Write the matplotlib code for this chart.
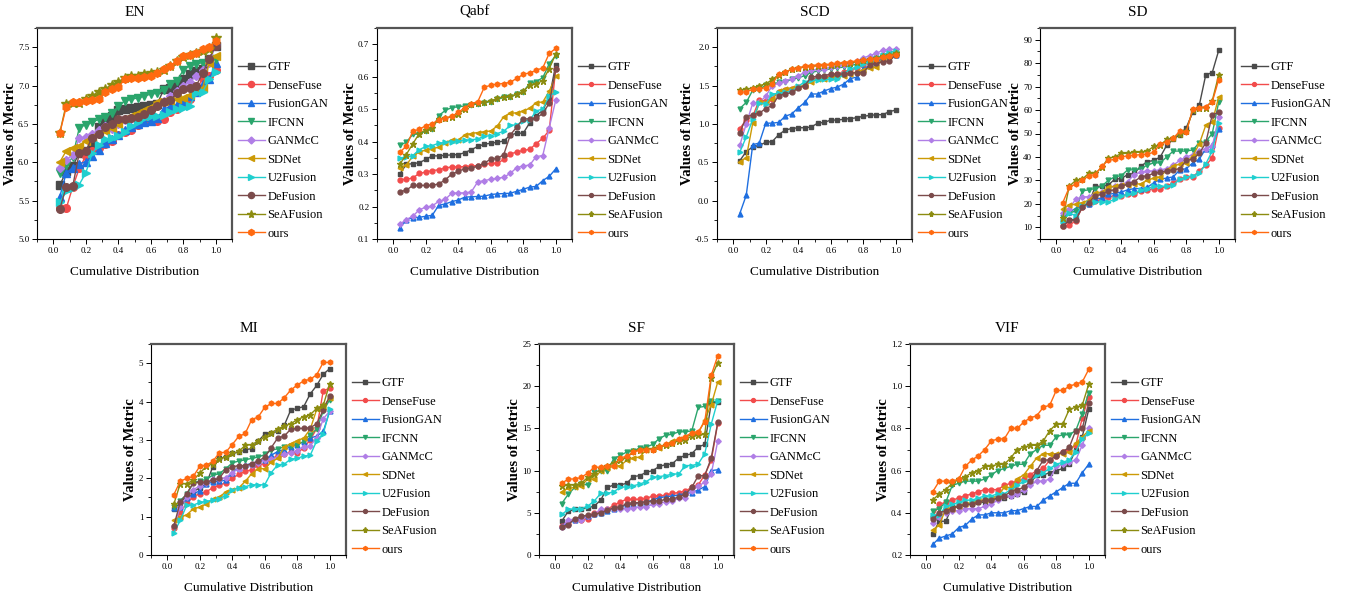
import matplotlib.pyplot as plt
from matplotlib.ticker import AutoMinorLocator, MultipleLocator

plt.rcParams['font.family'] = ['Liberation Serif', 'DejaVu Serif']
plt.rcParams['axes.unicode_minus'] = False

cdf = [0.04, 0.08, 0.12, 0.16, 0.20, 0.24, 0.28, 0.32, 0.36, 0.40, 0.44, 0.48, 0.52,
       0.56, 0.60, 0.64, 0.68, 0.72, 0.76, 0.80, 0.84, 0.88, 0.92, 0.96, 1.00]

methods = ['GTF', 'DenseFuse', 'FusionGAN', 'IFCNN', 'GANMcC', 'SDNet', 'U2Fusion',
           'DeFusion', 'SeAFusion', 'ours']
colors = ['#4a4a4a', '#f24b4b', '#1f6fe0', '#2aa56c', '#b07ee6', '#cc9a06', '#1fcfcf',
          '#7b4b4b', '#8c8c10', '#ff6a10']
markers = ['s', 'o', '^', 'v', 'D', '<', '>', 'o', '*', 'h']

# ---- EN
en_gtf = [5.70, 5.88, 5.95, 6.12, 6.15, 6.24, 6.46, 6.55, 6.60, 6.68, 6.70, 6.71, 6.72, 6.73, 6.74, 6.76, 6.95, 6.97, 7.02, 7.08, 7.15, 7.19, 7.22, 7.35, 7.52]
en_densefuse = [5.40, 5.40, 5.68, 5.92, 6.08, 6.15, 6.19, 6.24, 6.28, 6.36, 6.40, 6.42, 6.48, 6.52, 6.54, 6.54, 6.56, 6.65, 6.70, 6.74, 6.82, 6.93, 7.10, 7.12, 7.20]
en_fusiongan = [5.55, 5.86, 5.93, 5.98, 6.01, 6.08, 6.16, 6.25, 6.30, 6.36, 6.42, 6.46, 6.50, 6.52, 6.54, 6.58, 6.69, 6.73, 6.75, 6.80, 6.87, 6.92, 7.02, 7.08, 7.30]
en_ifcnn = [5.86, 5.96, 6.07, 6.45, 6.49, 6.52, 6.56, 6.59, 6.64, 6.73, 6.80, 6.82, 6.84, 6.86, 6.89, 6.90, 6.94, 7.02, 7.06, 7.20, 7.26, 7.28, 7.30, 7.32, 7.35]
en_ganmcc = [5.93, 6.03, 6.10, 6.31, 6.33, 6.37, 6.42, 6.47, 6.44, 6.50, 6.55, 6.58, 6.62, 6.65, 6.70, 6.76, 6.80, 6.87, 6.93, 7.00, 7.05, 7.12, 7.20, 7.30, 7.53]
en_sdnet = [6.00, 6.15, 6.18, 6.21, 6.28, 6.33, 6.37, 6.41, 6.45, 6.50, 6.56, 6.60, 6.64, 6.68, 6.72, 6.78, 6.80, 6.80, 6.82, 6.84, 6.88, 6.93, 6.97, 7.30, 7.38]
en_u2fusion = [5.48, 5.62, 5.67, 5.71, 5.86, 6.12, 6.22, 6.30, 6.32, 6.34, 6.40, 6.47, 6.52, 6.58, 6.60, 6.60, 6.62, 6.65, 6.69, 6.71, 6.73, 6.90, 6.92, 7.08, 7.18]
en_defusion = [5.39, 5.68, 5.69, 6.12, 6.15, 6.32, 6.37, 6.46, 6.50, 6.56, 6.57, 6.58, 6.59, 6.63, 6.68, 6.73, 6.78, 6.81, 6.90, 6.95, 6.97, 7.00, 7.16, 7.35, 7.52]
en_seafusion = [6.38, 6.76, 6.77, 6.77, 6.82, 6.87, 6.92, 6.96, 7.01, 7.05, 7.10, 7.12, 7.13, 7.15, 7.17, 7.18, 7.20, 7.25, 7.32, 7.37, 7.40, 7.42, 7.45, 7.47, 7.62]
en_ours = [6.38, 6.72, 6.78, 6.79, 6.80, 6.81, 6.82, 6.92, 6.96, 6.98, 7.08, 7.10, 7.10, 7.11, 7.13, 7.17, 7.22, 7.26, 7.32, 7.38, 7.40, 7.43, 7.48, 7.50, 7.58]

# ---- Qabf
qabf_gtf = [0.300, 0.330, 0.332, 0.335, 0.345, 0.356, 0.356, 0.358, 0.359, 0.360, 0.366, 0.375, 0.385, 0.392, 0.395, 0.398, 0.402, 0.420, 0.426, 0.426, 0.458, 0.480, 0.497, 0.535, 0.637]
qabf_densefuse = [0.283, 0.284, 0.288, 0.302, 0.306, 0.311, 0.313, 0.319, 0.322, 0.322, 0.323, 0.325, 0.326, 0.330, 0.333, 0.333, 0.345, 0.362, 0.368, 0.373, 0.376, 0.394, 0.410, 0.435, 0.625]
qabf_fusiongan = [0.133, 0.160, 0.165, 0.167, 0.170, 0.173, 0.204, 0.208, 0.215, 0.220, 0.229, 0.230, 0.231, 0.232, 0.237, 0.239, 0.240, 0.241, 0.247, 0.253, 0.260, 0.262, 0.280, 0.293, 0.316]
qabf_ifcnn = [0.389, 0.398, 0.422, 0.424, 0.432, 0.438, 0.480, 0.496, 0.505, 0.507, 0.510, 0.513, 0.516, 0.520, 0.523, 0.530, 0.536, 0.537, 0.546, 0.553, 0.580, 0.585, 0.597, 0.640, 0.665]
qabf_ganmcc = [0.145, 0.160, 0.170, 0.190, 0.198, 0.202, 0.216, 0.222, 0.241, 0.242, 0.242, 0.245, 0.276, 0.280, 0.284, 0.287, 0.290, 0.302, 0.320, 0.325, 0.328, 0.354, 0.357, 0.443, 0.528]
qabf_sdnet = [0.318, 0.328, 0.355, 0.368, 0.374, 0.378, 0.383, 0.397, 0.405, 0.405, 0.420, 0.425, 0.428, 0.430, 0.433, 0.448, 0.477, 0.487, 0.489, 0.494, 0.503, 0.520, 0.522, 0.555, 0.602]
qabf_u2fusion = [0.350, 0.352, 0.357, 0.375, 0.385, 0.388, 0.395, 0.398, 0.400, 0.402, 0.404, 0.406, 0.408, 0.417, 0.418, 0.425, 0.432, 0.450, 0.452, 0.463, 0.466, 0.495, 0.500, 0.540, 0.553]
qabf_defusion = [0.246, 0.250, 0.265, 0.265, 0.265, 0.265, 0.270, 0.282, 0.300, 0.308, 0.317, 0.318, 0.325, 0.334, 0.346, 0.348, 0.360, 0.420, 0.445, 0.470, 0.470, 0.472, 0.487, 0.518, 0.623]
qabf_seafusion = [0.330, 0.360, 0.393, 0.425, 0.436, 0.443, 0.470, 0.473, 0.476, 0.485, 0.500, 0.515, 0.520, 0.522, 0.525, 0.533, 0.538, 0.540, 0.546, 0.555, 0.575, 0.578, 0.588, 0.625, 0.670]
qabf_ours = [0.368, 0.385, 0.432, 0.438, 0.449, 0.455, 0.468, 0.472, 0.478, 0.490, 0.505, 0.517, 0.523, 0.567, 0.574, 0.577, 0.579, 0.583, 0.595, 0.607, 0.612, 0.620, 0.627, 0.672, 0.687]

# ---- SCD
scd_gtf = [0.52, 0.64, 0.70, 0.72, 0.76, 0.77, 0.86, 0.92, 0.94, 0.95, 0.95, 0.96, 1.01, 1.02, 1.05, 1.05, 1.06, 1.07, 1.08, 1.10, 1.11, 1.12, 1.12, 1.16, 1.18]
scd_densefuse = [0.94, 1.05, 1.10, 1.31, 1.30, 1.33, 1.42, 1.44, 1.46, 1.48, 1.49, 1.58, 1.60, 1.61, 1.63, 1.65, 1.68, 1.70, 1.73, 1.77, 1.80, 1.82, 1.86, 1.88, 1.91]
scd_fusiongan = [-0.17, 0.07, 0.73, 0.75, 1.01, 1.01, 1.02, 1.10, 1.13, 1.21, 1.28, 1.39, 1.39, 1.43, 1.46, 1.48, 1.52, 1.59, 1.61, 1.72, 1.76, 1.80, 1.85, 1.88, 1.90]
scd_ifcnn = [1.20, 1.28, 1.44, 1.44, 1.51, 1.52, 1.54, 1.55, 1.58, 1.60, 1.63, 1.67, 1.69, 1.70, 1.72, 1.73, 1.74, 1.76, 1.78, 1.80, 1.83, 1.86, 1.89, 1.93, 1.95]
scd_ganmcc = [0.72, 1.00, 1.27, 1.28, 1.36, 1.50, 1.53, 1.56, 1.59, 1.62, 1.68, 1.70, 1.71, 1.72, 1.74, 1.75, 1.77, 1.79, 1.82, 1.86, 1.89, 1.92, 1.96, 1.97, 1.97]
scd_sdnet = [0.51, 0.56, 1.01, 1.28, 1.29, 1.32, 1.43, 1.46, 1.47, 1.48, 1.50, 1.55, 1.58, 1.59, 1.61, 1.62, 1.63, 1.65, 1.68, 1.70, 1.73, 1.74, 1.85, 1.88, 1.92]
scd_u2fusion = [0.63, 0.83, 1.06, 1.27, 1.26, 1.39, 1.40, 1.41, 1.43, 1.49, 1.55, 1.57, 1.57, 1.58, 1.58, 1.58, 1.65, 1.72, 1.74, 1.78, 1.81, 1.85, 1.90, 1.93, 1.95]
scd_defusion = [0.88, 1.09, 1.12, 1.14, 1.20, 1.24, 1.37, 1.39, 1.41, 1.47, 1.50, 1.61, 1.62, 1.63, 1.65, 1.65, 1.65, 1.66, 1.67, 1.67, 1.77, 1.79, 1.81, 1.82, 1.90]
scd_seafusion = [1.44, 1.45, 1.47, 1.50, 1.52, 1.58, 1.64, 1.68, 1.71, 1.73, 1.74, 1.75, 1.76, 1.77, 1.77, 1.78, 1.79, 1.80, 1.81, 1.83, 1.84, 1.86, 1.88, 1.90, 1.92]
scd_ours = [1.41, 1.42, 1.45, 1.46, 1.47, 1.52, 1.65, 1.68, 1.71, 1.73, 1.75, 1.76, 1.77, 1.77, 1.78, 1.79, 1.80, 1.81, 1.82, 1.83, 1.84, 1.85, 1.87, 1.89, 1.90]

# ---- SD
sd_gtf = [10.5, 13.0, 13.5, 19.0, 20.0, 27.5, 27.5, 28.0, 30.5, 30.8, 32.5, 33.0, 36.0, 38.0, 38.5, 40.0, 45.0, 47.5, 49.5, 52.5, 59.0, 62.0, 75.0, 76.0, 85.5]
sd_densefuse = [10.5, 10.8, 12.8, 18.5, 20.0, 21.0, 22.0, 23.0, 23.5, 23.5, 24.0, 24.0, 25.5, 26.0, 26.5, 26.5, 27.5, 29.0, 30.5, 31.5, 31.5, 34.0, 36.5, 39.5, 52.5]
sd_fusiongan = [13.5, 16.5, 18.0, 19.0, 20.0, 22.0, 22.5, 24.0, 24.5, 25.0, 26.0, 26.5, 26.5, 27.0, 29.0, 30.5, 31.0, 31.5, 34.5, 35.0, 37.5, 39.0, 43.5, 45.0, 52.0]
sd_ifcnn = [14.5, 16.0, 17.0, 25.5, 26.0, 26.5, 27.5, 30.0, 31.5, 32.0, 34.5, 34.5, 35.0, 36.5, 37.5, 37.5, 40.0, 42.5, 42.5, 42.5, 43.0, 46.0, 46.5, 50.0, 63.5]
sd_ganmcc = [16.0, 18.0, 22.0, 23.0, 23.0, 24.0, 25.0, 26.5, 27.5, 28.0, 29.5, 32.5, 33.5, 34.0, 34.0, 34.5, 35.0, 36.5, 38.5, 40.0, 41.0, 42.5, 43.5, 44.5, 57.0]
sd_sdnet = [18.0, 19.5, 19.8, 20.5, 21.5, 24.5, 25.0, 27.0, 27.5, 28.0, 28.0, 28.5, 28.5, 30.0, 31.0, 31.5, 34.5, 36.0, 37.0, 37.5, 40.5, 45.5, 53.5, 55.0, 65.5]
sd_u2fusion = [12.5, 16.0, 15.0, 19.0, 20.5, 20.8, 20.8, 20.8, 22.0, 23.5, 24.0, 24.5, 26.0, 26.5, 27.5, 27.5, 27.5, 28.0, 30.5, 31.5, 32.0, 33.0, 37.0, 42.5, 54.5]
sd_defusion = [10.5, 13.0, 13.0, 18.5, 20.5, 23.5, 24.0, 25.5, 26.0, 27.5, 28.5, 29.5, 31.5, 32.0, 33.0, 33.5, 34.0, 34.5, 35.0, 38.5, 39.0, 41.5, 46.0, 58.0, 59.0]
sd_seafusion = [14.0, 27.5, 30.0, 30.5, 33.0, 33.0, 35.5, 39.5, 40.0, 41.5, 41.5, 42.0, 42.0, 42.5, 44.5, 45.0, 47.5, 48.0, 50.0, 51.0, 60.0, 61.0, 61.0, 64.0, 75.0]
sd_ours = [20.5, 27.0, 28.5, 30.0, 32.0, 32.5, 36.0, 38.5, 39.0, 40.0, 40.5, 40.7, 41.0, 41.2, 42.0, 45.5, 46.5, 48.0, 51.0, 50.5, 60.5, 61.0, 61.5, 63.5, 73.0]

# ---- MI
mi_gtf = [1.20, 1.35, 1.55, 1.65, 1.75, 1.85, 2.30, 2.52, 2.55, 2.65, 2.68, 2.75, 2.77, 2.97, 3.15, 3.18, 3.22, 3.38, 3.78, 3.82, 3.87, 4.20, 4.42, 4.71, 4.86]
mi_densefuse = [0.70, 1.12, 1.35, 1.52, 1.60, 1.65, 1.75, 1.82, 1.88, 2.00, 2.10, 2.18, 2.22, 2.35, 2.38, 2.50, 2.60, 2.63, 2.68, 2.65, 2.80, 3.00, 3.30, 4.28, 4.35]
mi_fusiongan = [1.22, 1.25, 1.48, 1.58, 1.68, 1.85, 1.90, 1.92, 1.95, 2.15, 2.28, 2.35, 2.38, 2.45, 2.48, 2.60, 2.70, 2.75, 2.82, 2.88, 2.95, 3.05, 3.10, 3.22, 3.75]
mi_ifcnn = [1.25, 1.42, 1.58, 1.88, 1.93, 1.97, 2.08, 2.12, 2.25, 2.40, 2.45, 2.48, 2.52, 2.55, 2.62, 2.73, 2.77, 2.82, 2.85, 2.88, 2.96, 3.14, 3.28, 3.75, 4.05]
mi_ganmcc = [0.75, 1.25, 1.52, 1.70, 1.80, 1.88, 1.98, 1.98, 2.02, 2.15, 2.25, 2.32, 2.35, 2.40, 2.48, 2.50, 2.55, 2.62, 2.67, 2.72, 2.82, 2.85, 3.05, 3.55, 3.75]
mi_sdnet = [0.90, 0.98, 1.05, 1.20, 1.25, 1.33, 1.45, 1.50, 1.65, 1.70, 1.75, 1.92, 2.12, 2.25, 2.25, 2.42, 2.52, 2.82, 2.90, 2.98, 3.05, 3.28, 3.80, 3.85, 4.10]
mi_u2fusion = [0.58, 0.90, 1.30, 1.30, 1.37, 1.40, 1.43, 1.47, 1.55, 1.70, 1.75, 1.78, 1.83, 1.83, 1.83, 2.15, 2.35, 2.37, 2.50, 2.52, 2.58, 2.60, 2.98, 3.15, 3.80]
mi_defusion = [0.75, 1.38, 1.60, 1.88, 1.90, 1.90, 1.95, 2.00, 2.22, 2.30, 2.33, 2.33, 2.38, 2.45, 2.55, 2.80, 3.05, 3.10, 3.28, 3.30, 3.30, 3.32, 3.42, 3.78, 4.15]
mi_seafusion = [1.32, 1.86, 1.86, 1.95, 2.13, 2.31, 2.38, 2.50, 2.56, 2.65, 2.70, 2.86, 2.88, 2.97, 3.07, 3.18, 3.29, 3.36, 3.42, 3.53, 3.60, 3.66, 3.82, 3.90, 4.47]
mi_ours = [1.57, 1.92, 2.00, 2.05, 2.31, 2.34, 2.44, 2.66, 2.68, 2.88, 3.09, 3.17, 3.53, 3.60, 3.85, 3.95, 3.95, 4.10, 4.30, 4.43, 4.54, 4.58, 4.70, 5.02, 5.02]

# ---- SF
sf_gtf = [4.0, 5.2, 5.4, 5.5, 5.6, 5.8, 6.5, 8.0, 8.3, 8.3, 8.5, 9.3, 9.4, 9.8, 10.0, 10.5, 10.7, 10.8, 11.5, 11.8, 12.0, 12.8, 13.1, 18.0, 18.1]
sf_densefuse = [3.4, 3.7, 4.2, 4.2, 4.3, 5.0, 5.2, 5.4, 5.9, 6.3, 6.6, 6.6, 6.6, 6.7, 7.0, 7.0, 7.1, 7.3, 7.4, 7.6, 8.0, 8.3, 9.5, 11.2, 15.6]
sf_fusiongan = [3.4, 3.8, 4.1, 4.4, 4.6, 4.8, 5.0, 5.2, 5.5, 5.7, 5.9, 6.1, 6.2, 6.3, 6.5, 6.8, 6.9, 7.0, 7.1, 7.3, 7.4, 7.7, 8.1, 10.0, 10.1]
sf_ifcnn = [6.1, 7.2, 8.0, 8.4, 8.3, 9.8, 10.0, 10.0, 11.4, 11.8, 12.2, 12.3, 12.7, 12.8, 13.1, 13.8, 14.2, 14.3, 14.6, 14.6, 14.7, 17.5, 17.6, 18.2, 18.2]
sf_ganmcc = [3.3, 4.2, 4.2, 4.2, 4.6, 4.9, 5.4, 5.4, 5.4, 5.5, 5.5, 5.6, 5.7, 5.7, 6.0, 6.1, 6.3, 6.4, 6.7, 6.8, 7.6, 8.2, 8.6, 9.6, 13.5]
sf_sdnet = [7.5, 7.9, 8.0, 8.2, 9.0, 9.0, 10.0, 10.3, 10.5, 10.6, 11.2, 11.5, 11.6, 12.5, 12.6, 12.7, 13.0, 13.5, 13.7, 14.0, 14.3, 14.4, 16.0, 17.8, 20.5]
sf_u2fusion = [4.8, 5.4, 5.5, 5.5, 5.8, 6.4, 7.3, 7.3, 7.5, 8.0, 8.1, 8.2, 8.4, 8.7, 9.2, 9.3, 9.4, 9.6, 9.6, 10.6, 10.6, 10.8, 12.0, 15.5, 18.3]
sf_defusion = [3.3, 3.6, 4.3, 4.6, 4.7, 4.8, 5.0, 5.3, 5.6, 5.7, 6.1, 6.2, 6.2, 6.3, 6.4, 6.4, 6.6, 6.6, 6.9, 7.2, 8.0, 9.4, 9.4, 11.5, 15.7]
sf_seafusion = [8.2, 8.3, 8.3, 8.5, 9.2, 9.6, 10.2, 10.6, 10.9, 11.3, 11.5, 12.3, 12.5, 12.6, 12.6, 12.9, 13.0, 13.3, 13.5, 13.6, 14.1, 14.2, 14.3, 21.0, 22.8]
sf_ours = [8.5, 9.0, 9.0, 9.2, 9.7, 10.4, 10.4, 10.5, 10.6, 11.5, 11.7, 12.2, 12.4, 12.5, 12.5, 12.8, 13.1, 13.3, 13.8, 14.0, 14.5, 14.6, 15.8, 21.3, 23.6]

# ---- VIF
vif_gtf = [0.30, 0.36, 0.36, 0.43, 0.43, 0.44, 0.44, 0.45, 0.45, 0.46, 0.47, 0.47, 0.48, 0.49, 0.50, 0.54, 0.58, 0.58, 0.59, 0.60, 0.61, 0.63, 0.70, 0.76, 0.89]
vif_densefuse = [0.38, 0.44, 0.45, 0.46, 0.47, 0.48, 0.49, 0.50, 0.51, 0.51, 0.51, 0.53, 0.54, 0.55, 0.56, 0.58, 0.60, 0.61, 0.65, 0.67, 0.69, 0.70, 0.72, 0.85, 0.95]
vif_fusiongan = [0.25, 0.28, 0.29, 0.30, 0.33, 0.34, 0.37, 0.39, 0.39, 0.40, 0.40, 0.40, 0.41, 0.41, 0.42, 0.43, 0.43, 0.46, 0.48, 0.50, 0.52, 0.54, 0.54, 0.59, 0.63]
vif_ifcnn = [0.41, 0.42, 0.45, 0.53, 0.54, 0.55, 0.55, 0.55, 0.56, 0.58, 0.60, 0.61, 0.62, 0.63, 0.63, 0.68, 0.70, 0.72, 0.72, 0.76, 0.77, 0.77, 0.79, 0.87, 0.97]
vif_ganmcc = [0.35, 0.38, 0.40, 0.41, 0.41, 0.42, 0.42, 0.42, 0.43, 0.44, 0.46, 0.48, 0.48, 0.49, 0.51, 0.53, 0.55, 0.55, 0.56, 0.62, 0.63, 0.64, 0.65, 0.72, 0.80]
vif_sdnet = [0.32, 0.34, 0.42, 0.42, 0.43, 0.44, 0.45, 0.46, 0.46, 0.47, 0.48, 0.52, 0.52, 0.56, 0.58, 0.62, 0.66, 0.68, 0.68, 0.68, 0.68, 0.69, 0.73, 0.76, 0.79]
vif_u2fusion = [0.39, 0.39, 0.43, 0.44, 0.45, 0.46, 0.46, 0.47, 0.48, 0.48, 0.49, 0.49, 0.51, 0.53, 0.55, 0.55, 0.58, 0.59, 0.61, 0.63, 0.64, 0.65, 0.69, 0.75, 0.78]
vif_defusion = [0.37, 0.40, 0.41, 0.42, 0.43, 0.44, 0.44, 0.45, 0.46, 0.46, 0.47, 0.48, 0.50, 0.51, 0.52, 0.55, 0.60, 0.65, 0.65, 0.67, 0.69, 0.71, 0.79, 0.80, 0.92]
vif_seafusion = [0.46, 0.49, 0.51, 0.54, 0.56, 0.57, 0.59, 0.60, 0.62, 0.62, 0.63, 0.63, 0.66, 0.70, 0.71, 0.72, 0.72, 0.74, 0.79, 0.82, 0.82, 0.89, 0.90, 0.91, 1.01]
vif_ours = [0.50, 0.55, 0.55, 0.55, 0.56, 0.62, 0.65, 0.67, 0.70, 0.74, 0.75, 0.75, 0.80, 0.80, 0.83, 0.85, 0.86, 0.90, 0.91, 0.98, 0.98, 1.00, 1.01, 1.02, 1.08]

en = [en_gtf, en_densefuse, en_fusiongan, en_ifcnn, en_ganmcc, en_sdnet, en_u2fusion, en_defusion, en_seafusion, en_ours]
qabf = [qabf_gtf, qabf_densefuse, qabf_fusiongan, qabf_ifcnn, qabf_ganmcc, qabf_sdnet, qabf_u2fusion, qabf_defusion, qabf_seafusion, qabf_ours]
scd = [scd_gtf, scd_densefuse, scd_fusiongan, scd_ifcnn, scd_ganmcc, scd_sdnet, scd_u2fusion, scd_defusion, scd_seafusion, scd_ours]
sd = [sd_gtf, sd_densefuse, sd_fusiongan, sd_ifcnn, sd_ganmcc, sd_sdnet, sd_u2fusion, sd_defusion, sd_seafusion, sd_ours]
mi = [mi_gtf, mi_densefuse, mi_fusiongan, mi_ifcnn, mi_ganmcc, mi_sdnet, mi_u2fusion, mi_defusion, mi_seafusion, mi_ours]
sf = [sf_gtf, sf_densefuse, sf_fusiongan, sf_ifcnn, sf_ganmcc, sf_sdnet, sf_u2fusion, sf_defusion, sf_seafusion, sf_ours]
vif = [vif_gtf, vif_densefuse, vif_fusiongan, vif_ifcnn, vif_ganmcc, vif_sdnet, vif_u2fusion, vif_defusion, vif_seafusion, vif_ours]

W, H = 1346, 598
fig = plt.figure(figsize=(W / 100, H / 100), dpi=100)

# title, data, (ymin, ymax), ystep, left px, top px, marker size
panels = [
    ('EN', en, (5.0, 7.75), 0.5, 37, 28, 5.5),
    ('Qabf', qabf, (0.1, 0.75), 0.1, 377, 28, 3.5),
    ('SCD', scd, (-0.5, 2.25), 0.5, 717, 28, 3.5),
    ('SD', sd, (5, 95), 10, 1040, 28, 3.5),
    ('MI', mi, (0, 5.5), 1, 151, 344, 3.5),
    ('SF', sf, (0, 25), 5, 539, 344, 3.5),
    ('VIF', vif, (0.2, 1.2), 0.2, 910, 344, 3.5),
]
aw, ah = 195, 211

for title, data, ylim, ystep, lx, ty, ms in panels:
    ax = fig.add_axes([lx / W, (H - ty - ah) / H, aw / W, ah / H])
    for i in range(len(methods)):
        m = markers[i]
        size = ms * 0.8 if m == 'D' else (ms * 1.3 if m == '*' else ms)
        ax.plot(cdf, data[i], color=colors[i], marker=m, markersize=size,
                linewidth=1.0, label=methods[i])
    ax.set_xlim(-0.1, 1.1)
    ax.set_ylim(*ylim)
    ax.xaxis.set_major_locator(MultipleLocator(0.2))
    ax.yaxis.set_major_locator(MultipleLocator(ystep))
    ax.xaxis.set_minor_locator(AutoMinorLocator(2))
    ax.yaxis.set_minor_locator(AutoMinorLocator(2))
    ax.tick_params(which='major', direction='out', length=3.5, width=0.7, labelsize=6.5, pad=2)
    ax.tick_params(which='minor', direction='out', length=2, width=0.6)
    for s in ['left', 'bottom']:
        ax.spines[s].set_linewidth(0.8)
        ax.spines[s].set_color('black')
    for s in ['top', 'right']:
        ax.spines[s].set_linewidth(1.6)
        ax.spines[s].set_color('#555555')
    ax.set_title(title, fontsize=11, pad=9)
    ax.set_xlabel('Cumulative Distribution', fontsize=9.5, labelpad=8)
    ax.set_ylabel('Values of Metric', fontsize=10.5, fontweight='bold', labelpad=1)
    ax.legend(loc='center left', bbox_to_anchor=(0.99, 0.42), frameon=False,
              fontsize=9, handlelength=2.2, handletextpad=0.2, labelspacing=0.52,
              borderaxespad=0.2, markerscale=0.8)

fig.savefig('out.png', dpi=100)
